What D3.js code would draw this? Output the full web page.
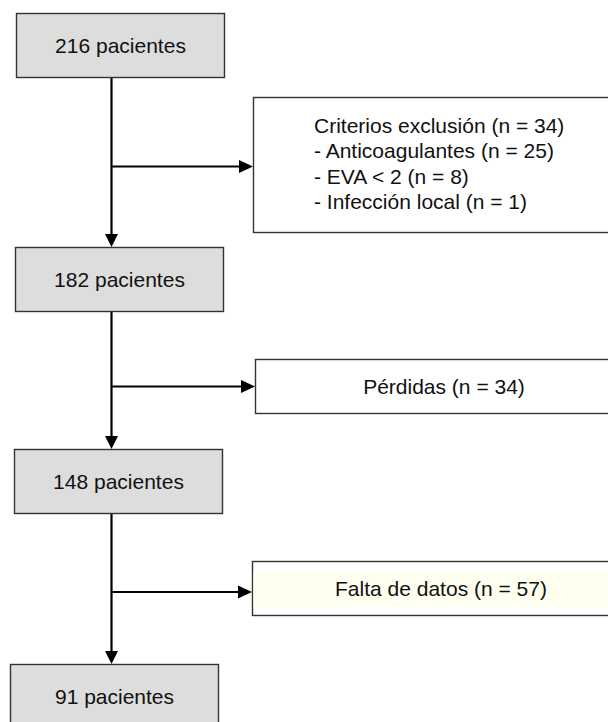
<!DOCTYPE html>
<html><head><meta charset="utf-8">
<script src="https://cdn.jsdelivr.net/npm/d3@7"></script>
<style>body{margin:0;background:#fff}svg{display:block}</style>
</head><body>
<svg id="c" width="608" height="722"></svg>
<script>
// ---- data ----
const patientCounts = [216, 182, 148, 91];
const patientLabel = "pacientes";
const exclusionTitles = ["Criterios exclusión", "Pérdidas", "Falta de datos"];
const exclusionCounts = [34, 34, 57];
const detailLabels = ["Anticoagulantes", "EVA < 2", "Infección local"];
const detailCounts = [25, 8, 1];

// ---- layout (kept apart from data) ----
const mainX = [16, 15, 14, 10];
const mainTop = [13, 247, 449, 664];
const mainW = 208, mainH = 64;
const stemX = 111.5;
const sideX = [253, 255, 252];
const sideTop = [97, 359, 561];
const sideH = [135, 54, 54];
const sideW = 380;
const branchY = [166.5, 386.5, 592];
const sideTextCx = [null, 444, 441];
const sideFill = ["#ffffff", "#ffffff", "#ffffff"];
const font = "'Liberation Sans', Arial, Helvetica, sans-serif";
const fs = 21;

const svg = d3.select("#c");
const idx = d3.range(patientCounts.length);

// lines
const lineG = svg.append("g").attr("stroke", "#000").attr("stroke-width", 2.2).attr("fill", "none");
const arrowG = svg.append("g").attr("fill", "#000");
d3.range(patientCounts.length - 1).forEach(i => {
  const y0 = mainTop[i] + mainH, y1 = mainTop[i + 1];
  lineG.append("line").attr("x1", stemX).attr("x2", stemX).attr("y1", y0).attr("y2", y1 - 12);
  arrowG.append("path").attr("d", d3.line()([[stemX - 6.5, y1 - 13], [stemX + 6.5, y1 - 13], [stemX, y1]]) + "Z");
  const by = branchY[i], bx = sideX[i];
  lineG.append("line").attr("x1", stemX).attr("x2", bx - 13).attr("y1", by).attr("y2", by);
  arrowG.append("path").attr("d", d3.line()([[bx - 14, by - 6.5], [bx - 14, by + 6.5], [bx, by]]) + "Z");
});

// main boxes
const mg = svg.append("g").selectAll("g").data(idx).join("g");
mg.append("rect")
  .attr("x", i => mainX[i] + 0.5).attr("y", i => mainTop[i] + 0.5)
  .attr("width", mainW).attr("height", mainH)
  .attr("fill", "#dddddd").attr("stroke", "#333").attr("stroke-width", 1.4);
mg.append("text")
  .attr("x", i => mainX[i] + mainW / 2 + 0.5).attr("y", i => mainTop[i] + mainH / 2 + 7.5)
  .attr("text-anchor", "middle").attr("font-family", font).attr("font-size", fs).attr("fill", "#111")
  .text(i => `${patientCounts[i]} ${patientLabel}`);

// side boxes
const sg = svg.append("g").selectAll("g").data(d3.range(exclusionTitles.length)).join("g");
sg.append("rect")
  .attr("x", i => sideX[i] + 0.5).attr("y", i => sideTop[i] + 0.5)
  .attr("width", sideW).attr("height", i => sideH[i])
  .attr("fill", i => sideFill[i]).attr("stroke", "#333").attr("stroke-width", 1.4);
// cream band in the last box
svg.append("rect").attr("x", sideX[2] + 1.5).attr("y", sideTop[2] + 11)
  .attr("width", sideW - 2).attr("height", 35).attr("fill", "#fffff0");

// first side box: multi-line, left aligned
const t0 = svg.append("text").attr("font-family", font).attr("font-size", fs).attr("fill", "#111");
const lines0 = [`${exclusionTitles[0]} (n = ${exclusionCounts[0]})`]
  .concat(detailLabels.map((d, k) => `- ${d} (n = ${detailCounts[k]})`));
lines0.forEach((s, k) => {
  t0.append("tspan").attr("x", 314).attr("y", 133 + k * 25.4).text(s);
});
// other side boxes: centered
[1, 2].forEach(i => {
  svg.append("text").attr("x", sideTextCx[i]).attr("y", sideTop[i] + sideH[i] / 2 + 7.5)
    .attr("text-anchor", "middle").attr("font-family", font).attr("font-size", fs).attr("fill", "#111")
    .text(`${exclusionTitles[i]} (n = ${exclusionCounts[i]})`);
});
</script>
</body></html>
